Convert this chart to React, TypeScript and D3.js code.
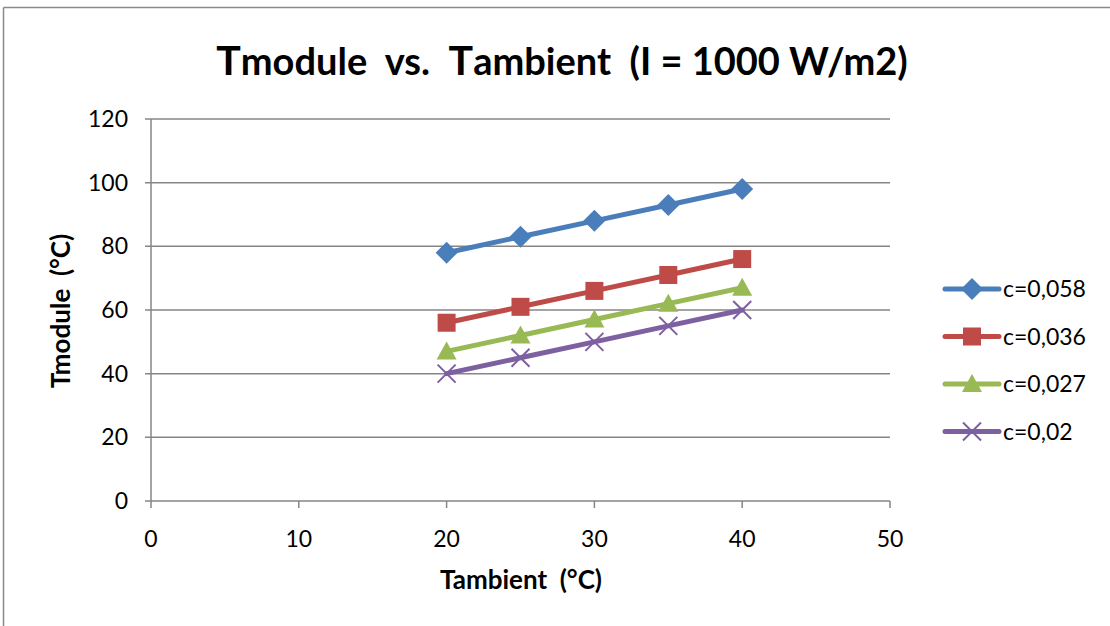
import React from "react";
import * as d3 from "d3";

const tAmbient = [20, 25, 30, 35, 40];
const seriesNames = ["c=0,058", "c=0,036", "c=0,027", "c=0,02"];
const c058 = [78, 83, 88, 93, 98];
const c036 = [56, 61, 66, 71, 76];
const c027 = [47, 52, 57, 62, 67];
const c020 = [40, 45, 50, 55, 60];
const xTicks = [0, 10, 20, 30, 40, 50];
const yTicks = [0, 20, 40, 60, 80, 100, 120];

const colors = ["#4a7ebb", "#be4b48", "#98b954", "#7d60a0"];
const markers = ["diamond", "square", "triangle", "x"];

const font = "Lato, 'Open Sans', sans-serif";
const sp2 = "\u00a0\u00a0";

const Marker = ({ kind, x, y, color }: { kind: string; x: number; y: number; color: string }) => {
  if (kind === "diamond") {
    return <path d={`M${x},${y - 11}L${x + 11},${y}L${x},${y + 11}L${x - 11},${y}Z`} fill={color} />;
  }
  if (kind === "square") {
    return <rect x={x - 9} y={y - 9} width={18} height={18} fill={color} />;
  }
  if (kind === "triangle") {
    return <path d={`M${x},${y - 10}L${x + 10},${y + 8}L${x - 10},${y + 8}Z`} fill={color} />;
  }
  return (
    <path
      d={`M${x - 9},${y - 9}L${x + 9},${y + 9}M${x - 9},${y + 9}L${x + 9},${y - 9}`}
      stroke={color}
      strokeWidth={2}
      fill="none"
    />
  );
};

export default function App() {
  const x = d3.scaleLinear().domain([0, 50]).range([151, 890]);
  const y = d3.scaleLinear().domain([0, 120]).range([501, 119]);
  const all = [c058, c036, c027, c020];
  const line = d3
    .line<number>()
    .x((_, i) => x(tAmbient[i]))
    .y((d) => y(d));

  return (
    <svg
      width={1110}
      height={626}
      style={{ position: "absolute", left: 0, top: 0, background: "#fff" }}
      fontFamily={font}
    >
      {/* outer frame (top and left only visible) */}
      <line x1={3.5} x2={1110} y1={7.5} y2={7.5} stroke="#8a8a8a" strokeWidth={1.5} />
      <line x1={3.5} x2={3.5} y1={7.5} y2={626} stroke="#8a8a8a" strokeWidth={1.5} />

      <text x={562} y={75} textAnchor="middle" fontSize={38} fontWeight="bold" fill="#000">
        <tspan fontSize={41}>T</tspan>
        {`module${sp2}vs.${sp2}`}
        <tspan fontSize={41}>T</tspan>
        {`ambient${sp2}(I = 1000 W/m2)`}
      </text>

      {/* gridlines */}
      {yTicks.map((t) => (
        <line key={t} x1={145} x2={890} y1={y(t)} y2={y(t)} stroke="#868686" strokeWidth={1.5} />
      ))}
      <line x1={x(0)} x2={x(0)} y1={y(120)} y2={y(0)} stroke="#868686" strokeWidth={1.5} />
      {xTicks.map((t) => (
        <line key={t} x1={x(t)} x2={x(t)} y1={y(0)} y2={y(0) + 7} stroke="#868686" strokeWidth={1.5} />
      ))}

      {yTicks.map((t) => (
        <text key={t} x={128} y={y(t) + 8} textAnchor="end" fontSize={23} fill="#000">
          {t}
        </text>
      ))}
      {xTicks.map((t) => (
        <text key={t} x={x(t)} y={547} textAnchor="middle" fontSize={23} fill="#000">
          {t}
        </text>
      ))}

      <text x={521} y={589} textAnchor="middle" fontSize={26} fontWeight="bold" fill="#000">
        {`Tambient${sp2}(°C)`}
      </text>
      <text
        transform={`translate(70,311) rotate(-90)`}
        textAnchor="middle"
        fontSize={26}
        fontWeight="bold"
        fill="#000"
      >
        {`Tmodule${sp2}(°C)`}
      </text>

      {all.map((s, k) => (
        <g key={k}>
          <path d={line(s)!} fill="none" stroke={colors[k]} strokeWidth={5} strokeLinecap="round" />
          {s.map((v, i) => (
            <Marker key={i} kind={markers[k]} x={x(tAmbient[i])} y={y(v)} color={colors[k]} />
          ))}
        </g>
      ))}

      {seriesNames.map((n, k) => {
        const ly = 289 + k * 47.5;
        return (
          <g key={n}>
            <line x1={945} x2={999} y1={ly} y2={ly} stroke={colors[k]} strokeWidth={5} strokeLinecap="round" />
            <Marker kind={markers[k]} x={972} y={ly} color={colors[k]} />
            <text x={1003} y={ly + 8} fontSize={23} fill="#000">
              {n}
            </text>
          </g>
        );
      })}
    </svg>
  );
}
